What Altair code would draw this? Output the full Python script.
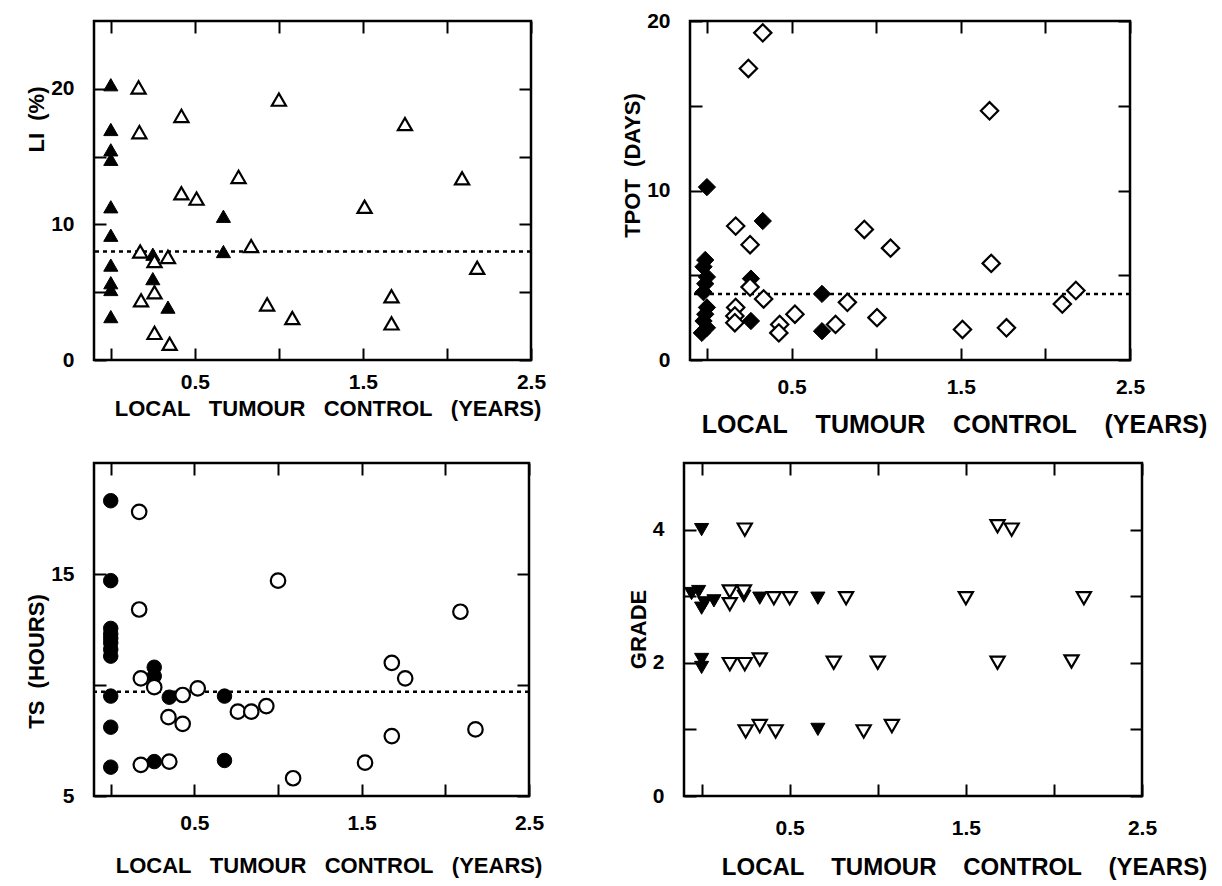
import altair as alt
import pandas as pd

# ---------------- data ----------------
# Panel A: LI (%)
li_fail_x = [0, 0, 0, 0, 0, 0, 0, 0, 0, 0, 0.25, 0.25, 0.34, 0.67, 0.67]
li_fail_y = [20.3, 17.0, 15.5, 14.8, 11.3, 9.2, 7.0, 5.7, 5.2, 3.2, 7.8, 6.0, 3.9, 10.6, 8.0]
li_ctrl_x = [0.165, 0.17, 0.175, 0.18, 0.26, 0.26, 0.26, 0.34, 0.35, 0.42, 0.42, 0.51,
             0.76, 0.835, 0.93, 1.0, 1.08, 1.51, 1.67, 1.67, 1.75, 2.09, 2.18]
li_ctrl_y = [20.1, 16.8, 8.0, 4.4, 7.3, 5.0, 2.0, 7.6, 1.2, 18.0, 12.3, 11.9,
             13.5, 8.4, 4.1, 19.2, 3.1, 11.3, 4.7, 2.7, 17.4, 13.4, 6.8]
li_median = 8.0

# Panel B: TPOT (days)
tp_fail_x = [0, -0.01, -0.02, 0, -0.01, -0.02, 0, -0.01, -0.02, 0, -0.03, 0.33, 0.26, 0.26, 0.68, 0.68]
tp_fail_y = [10.2, 5.9, 5.5, 4.9, 4.5, 4.0, 3.1, 2.7, 2.3, 1.9, 1.6, 8.2, 4.8, 2.3, 3.9, 1.7]
tp_ctrl_x = [0.33, 0.245, 0.17, 0.255, 0.255, 0.335, 0.17, 0.165, 0.165, 0.43, 0.425, 0.52,
             0.76, 0.83, 0.93, 1.085, 1.005, 1.51, 1.67, 1.68, 1.77, 2.1, 2.18]
tp_ctrl_y = [19.3, 17.2, 7.9, 6.8, 4.3, 3.6, 3.1, 2.6, 2.2, 2.1, 1.6, 2.7,
             2.1, 3.4, 7.7, 6.6, 2.5, 1.8, 14.7, 5.7, 1.9, 3.3, 4.1]
tp_median = 3.9

# Panel C: TS (hours)
ts_fail_x = [0, 0, 0, 0, 0, 0, 0, 0, 0, 0, 0, 0.26, 0.26, 0.35, 0.26, 0.68, 0.68]
ts_fail_y = [18.3, 14.7, 12.55, 12.3, 12.1, 11.9, 11.6, 11.3, 9.5, 8.1, 6.3, 10.8, 10.4, 9.45, 6.55, 9.5, 6.6]
ts_ctrl_x = [0.17, 0.17, 0.18, 0.26, 0.43, 0.52, 0.345, 0.43, 0.76, 0.84, 0.93, 0.18, 0.35,
             1.0, 1.09, 1.52, 1.68, 1.68, 1.76, 2.09, 2.18]
ts_ctrl_y = [17.8, 13.4, 10.3, 9.9, 9.55, 9.85, 8.55, 8.25, 8.8, 8.8, 9.05, 6.4, 6.55,
             14.7, 5.8, 6.5, 11.0, 7.7, 10.3, 13.3, 8.0]
ts_median = 9.7

# Panel D: GRADE
gr_fail_x = [0, -0.057, -0.017, 0.017, 0.07, 0, 0.24, 0.33, 0.66, 0, 0, 0.66]
gr_fail_y = [4.0, 3.04, 3.07, 2.9, 2.93, 2.82, 3.0, 2.97, 2.97, 2.05, 1.93, 1.0]
gr_ctrl_x = [0.245, 1.68, 1.76, 0.16, 0.16, 0.24, 0.41, 0.5, 0.82, 1.5, 2.17,
             0.16, 0.245, 0.33, 0.75, 1.0, 1.68, 2.1, 0.25, 0.33, 0.42, 0.92, 1.08]
gr_ctrl_y = [4.0, 4.05, 4.0, 3.07, 2.88, 3.07, 2.97, 2.97, 2.97, 2.97, 2.97,
             1.98, 1.98, 2.05, 2.0, 2.0, 2.0, 2.02, 0.97, 1.05, 0.97, 0.97, 1.05]

x_ticks = [0, 0.5, 1.0, 1.5, 2.0, 2.5]
x_labels = [0.5, 1.5, 2.5]

FONT = "Liberation Sans"
NB = "\u00a0"


def xtitle(gap):
    sep = NB * gap
    return sep.join(["LOCAL", "TUMOUR", "CONTROL", "(YEARS)"])


def panel(fx, fy, cx, cy, shape, size, ytitle, ydom, yticks, ylabs, median,
          w, h, xt_size, xt_gap, title_dx, ytitle_y, x_lp, x_tp):
    dff = pd.DataFrame({"x": fx, "y": fy})
    dfc = pd.DataFrame({"x": cx, "y": cy})
    xs = alt.Scale(domain=[-0.1, 2.5], nice=False, zero=False)
    ys = alt.Scale(domain=ydom, nice=False, zero=False)
    xexpr = "indexof(%s, datum.value) >= 0 ? datum.label : ''" % str(x_labels)
    yexpr = "indexof(%s, datum.value) >= 0 ? datum.label : ''" % str(ylabs)

    ax_bottom = alt.Axis(orient="bottom", values=x_ticks, labelExpr=xexpr,
                         tickSize=12, offset=-12, labelPadding=x_lp,
                         title=xtitle(xt_gap), titleFontSize=xt_size,
                         titlePadding=x_tp, titleX=w / 2 + title_dx)
    ax_top = alt.Axis(orient="top", values=x_ticks, labels=False, title=None,
                      tickSize=12, offset=-12)
    ax_left = alt.Axis(orient="left", values=yticks, labelExpr=yexpr,
                       tickSize=12, offset=-12, labelPadding=20,
                       title=ytitle, titleFontSize=22, titlePadding=2, titleY=ytitle_y)
    ax_right = alt.Axis(orient="right", values=yticks, labels=False, title=None,
                        tickSize=12, offset=-12)

    layers = []
    if median is not None:
        rule = alt.Chart(pd.DataFrame({"y": [median]})).mark_rule(
            color="black", strokeWidth=2.5, strokeDash=[4, 4]
        ).encode(y=alt.Y("y:Q", scale=ys, axis=None))
        layers.append(rule)
    filled = alt.Chart(dff).mark_point(
        shape=shape, filled=True, fill="black", stroke="black", strokeWidth=1,
        size=size, opacity=1
    ).encode(
        x=alt.X("x:Q", scale=xs, axis=ax_bottom),
        y=alt.Y("y:Q", scale=ys, axis=ax_left),
    )
    hollow = alt.Chart(dfc).mark_point(
        shape=shape, filled=True, fill="white", stroke="black", strokeWidth=2.2,
        size=size, opacity=1
    ).encode(
        x=alt.X("x:Q", scale=xs, axis=ax_top),
        y=alt.Y("y:Q", scale=ys, axis=ax_right),
    )
    layers += [filled, hollow]
    return alt.layer(*layers).resolve_axis(x="independent", y="independent").properties(
        width=w, height=h)


pA = panel(li_fail_x, li_fail_y, li_ctrl_x, li_ctrl_y, "triangle-up", 200,
           "LI" + NB + NB + "(%)", [0, 25], [0, 5, 10, 15, 20], [0, 10, 20], li_median,
           437, 339, 22, 3, 15, 98, 11, 6)
pB = panel(tp_fail_x, tp_fail_y, tp_ctrl_x, tp_ctrl_y, "diamond", 300,
           "TPOT" + NB + NB + "(DAYS)", [0, 20], [0, 5, 10, 15, 20], [0, 10, 20], tp_median,
           440, 339, 25, 4, 44, 144, 16, 15)
pC = panel(ts_fail_x, ts_fail_y, ts_ctrl_x, ts_ctrl_y, "circle", 210,
           "TS" + NB + NB + "(HOURS)", [5, 20], [5, 10, 15], [5, 15], ts_median,
           435, 333, 22, 3, 17, 198, 16, 22)
pD = panel(gr_fail_x, gr_fail_y, gr_ctrl_x, gr_ctrl_y, "triangle-down", 200,
           "GRADE", [0, 5], [0, 1, 2, 3, 4], [0, 2, 4], None,
           458, 333, 24, 4, 51, 166, 21, 17)

row1 = alt.hconcat(pA, pB, spacing=73)
row2 = alt.hconcat(pC, pD, spacing=81)

chart = alt.vconcat(row1, row2, spacing=21).properties(
    padding={"left": 16, "top": 0, "right": 0, "bottom": 0},
    background="white"
).configure_view(
    stroke="black", strokeWidth=2.5
).configure_axis(
    labelFont=FONT, labelFontSize=21, labelFontWeight="bold", labelColor="black",
    titleFont=FONT, titleFontWeight="bold", titleColor="black",
    tickColor="black", tickWidth=2, grid=False, domain=False,
    labelFlush=False, labelOverlap=False
)

chart.save("out.html", embed_options={"renderer": "svg", "actions": False})
